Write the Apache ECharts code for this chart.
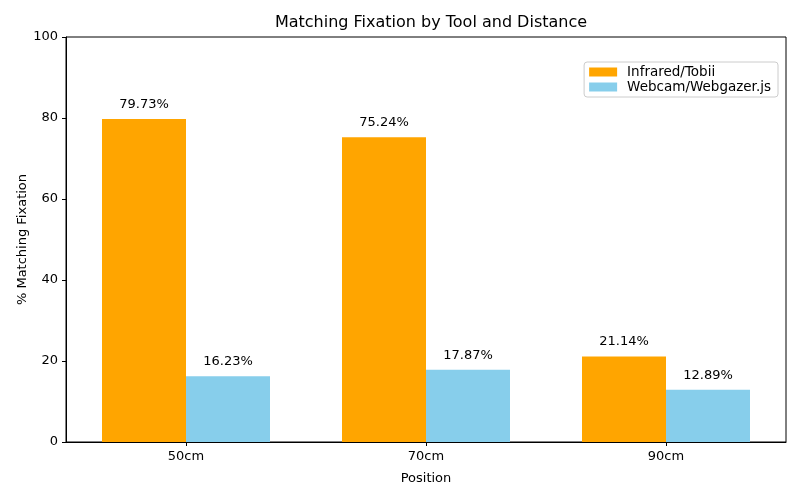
<!DOCTYPE html>
<html><head><meta charset="utf-8">
<script src="https://cdn.jsdelivr.net/npm/echarts@6/dist/echarts.min.js"></script>
<style>html,body{margin:0;padding:0;background:#fff}#c{width:800px;height:500px}</style>
</head><body><div id="c"></div>
<script>
const categories = ['50cm', '70cm', '90cm'];
const infrared = [79.73, 75.24, 21.14];
const webcam = [16.23, 17.87, 12.89];
const yTicks = [0, 20, 40, 60, 80, 100];

const font = 'DejaVu Sans';
const chart = echarts.init(document.getElementById('c'));
const lbl = {
  show: true, position: 'top', distance: 8, color: '#000', fontFamily: font, fontSize: 13,
  formatter: p => p.value.toFixed(2) + '%'
};
chart.setOption({
  animation: false,
  textStyle: { fontFamily: font },
  title: { text: 'Matching Fixation by Tool and Distance', left: 426, top: 10, textAlign: 'center',
    textStyle: { fontFamily: font, fontSize: 16, fontWeight: 'normal', color: '#000' } },
  grid: { left: 66, right: 14, top: 37, bottom: 58 },
  legend: {
    orient: 'vertical', right: 22, top: 62, itemWidth: 28, itemHeight: 9, itemGap: 1,
    borderColor: '#ccc', borderWidth: 1, borderRadius: 3, padding: [3, 7, 3, 5],
    textStyle: { fontFamily: font, fontSize: 13.5, color: '#000', lineHeight: 13, padding: [0, 0, 0, 5] }, icon: 'rect',
    data: ['Infrared/Tobii', 'Webcam/Webgazer.js']
  },
  xAxis: {
    type: 'category', data: categories, name: 'Position', nameLocation: 'middle', nameGap: 30,
    nameTextStyle: { fontFamily: font, fontSize: 13, color: '#000' },
    axisLine: { show: true, lineStyle: { color: '#000' } },
    axisTick: { show: true, alignWithLabel: true, length: 4, lineStyle: { color: '#000' } },
    axisLabel: { color: '#000', fontFamily: font, fontSize: 13, margin: 8 }
  },
  yAxis: {
    type: 'value', min: 0, max: 100, interval: 20, name: '% Matching Fixation', nameLocation: 'middle',
    nameGap: 37, nameMoveOverlap: false,
    nameTextStyle: { fontFamily: font, fontSize: 13, color: '#000' },
    axisLine: { show: true, lineStyle: { color: '#000' } },
    axisTick: { show: true, length: 4, lineStyle: { color: '#000' } },
    axisLabel: { color: '#000', fontFamily: font, fontSize: 13, margin: 8,
      formatter: v => yTicks.includes(v) ? String(v) : '' },
    splitLine: { show: false }
  },
  series: [
    { name: 'Infrared/Tobii', type: 'bar', data: infrared, barWidth: '35%', barGap: '0%',
      itemStyle: { color: '#FFA500' }, label: lbl },
    { name: 'Webcam/Webgazer.js', type: 'bar', data: webcam, barWidth: '35%',
      itemStyle: { color: '#87CEEB' }, label: lbl }
  ],
  graphic: [{ type: 'rect', shape: { x: 66, y: 37, width: 720, height: 405 }, silent: true,
    style: { fill: 'none', stroke: '#000', lineWidth: 1 } }]
});
</script></body></html>
